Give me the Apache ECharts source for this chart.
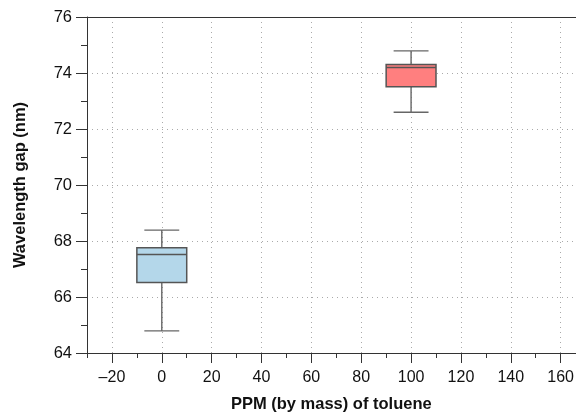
<!DOCTYPE html>
<html>
<head>
<meta charset="utf-8">
<script src="https://cdn.jsdelivr.net/npm/echarts@6/dist/echarts.min.js"></script>
<style>
  html, body { margin: 0; padding: 0; background: #fff; }
  #chart { width: 577px; height: 418px; }
</style>
</head>
<body>
<div id="chart"></div>
<script>
// Toluene concentration groups (ppm by mass) and box statistics of the wavelength gap (nm)
const ppm = [0, 100];
const lowWhisker = [64.79, 72.60];
const q1 = [66.52, 73.51];
const median = [67.52, 74.20];
const q3 = [67.76, 74.30];
const highWhisker = [68.39, 74.79];
const boxColors = ['#b4d7ea', '#ff7f7f'];

// Axis ticks
const xMajorTicks = [-20, 0, 20, 40, 60, 80, 100, 120, 140, 160];
const xMinorTicks = [-30, -10, 10, 30, 50, 70, 90, 110, 130, 150];

const boxHalfWidth = 10;   // in ppm units
const capHalfWidth = 7;    // in ppm units

const data = ppm.map((x, i) => [x, lowWhisker[i], q1[i], median[i], q3[i], highWhisker[i], i]);

const font = 'Liberation Sans, Arial, Helvetica, sans-serif';

const chart = echarts.init(document.getElementById('chart'), null, { renderer: 'canvas' });

chart.setOption({
  animation: false,
  backgroundColor: '#fff',
  grid: { left: 87, top: 17, right: 0, bottom: 65, containLabel: false },
  xAxis: [
    {
      type: 'value',
      min: -30,
      max: 166,
      name: 'PPM (by mass) of toluene',
      nameLocation: 'middle',
      nameGap: 43,
      nameTextStyle: { fontFamily: font, fontWeight: 'bold', fontSize: 16.5, color: '#111' },
      axisLine: { show: true, onZero: false, lineStyle: { color: '#333', width: 1 } },
      axisTick: { show: true, inside: false, length: 10, customValues: xMajorTicks, lineStyle: { color: '#333' } },
      axisLabel: {
        customValues: xMajorTicks,
        margin: 17,
        fontFamily: font,
        fontSize: 16,
        color: '#111',
        formatter: v => (v < 0 ? '\u2013' + Math.abs(v) : String(v))
      },
      splitLine: { show: true, lineStyle: { color: '#aaa', type: [1, 4], width: 1 } }
    },
    {
      // minor ticks along the bottom axis
      type: 'value',
      position: 'bottom',
      min: -30,
      max: 166,
      axisLine: { show: false },
      axisTick: { show: true, length: 5, customValues: xMinorTicks, lineStyle: { color: '#333' } },
      axisLabel: { show: false },
      splitLine: { show: false }
    },
    {
      // top frame line
      type: 'value',
      position: 'top',
      min: -30,
      max: 166,
      axisLine: { show: true, onZero: false, lineStyle: { color: '#333', width: 1 } },
      axisTick: { show: false },
      axisLabel: { show: false },
      splitLine: { show: false }
    }
  ],
  yAxis: {
    type: 'value',
    min: 64,
    max: 76,
    interval: 2,
    name: 'Wavelength gap (nm)',
    nameLocation: 'middle',
    nameGap: 58,
    nameRotate: 90,
    nameTextStyle: { fontFamily: font, fontWeight: 'bold', fontSize: 16.5, color: '#111' },
    axisLine: { show: true, onZero: false, lineStyle: { color: '#333', width: 1 } },
    axisTick: { show: true, inside: false, length: 11, lineStyle: { color: '#333' } },
    minorTick: { show: true, splitNumber: 2, length: 6, lineStyle: { color: '#333' } },
    axisLabel: { margin: 15, fontFamily: font, fontSize: 16.5, color: '#111' },
    splitLine: { show: true, lineStyle: { color: '#aaa', type: [1, 4], width: 1 } }
  },
  series: [{
    type: 'custom',
    xAxisIndex: 0,
    yAxisIndex: 0,
    data: data,
    encode: { x: 0, y: [1, 2, 3, 4, 5] },
    renderItem: function (params, api) {
      const x = api.value(0);
      const idx = api.value(6);
      const pLow = api.coord([x, api.value(1)]);
      const pQ1 = api.coord([x, api.value(2)]);
      const pMed = api.coord([x, api.value(3)]);
      const pQ3 = api.coord([x, api.value(4)]);
      const pHigh = api.coord([x, api.value(5)]);
      const xl = api.coord([x - boxHalfWidth, 0])[0];
      const xr = api.coord([x + boxHalfWidth, 0])[0];
      const cl = api.coord([x - capHalfWidth, 0])[0];
      const cr = api.coord([x + capHalfWidth, 0])[0];
      const whiskerStyle = { stroke: '#666', lineWidth: 1.4, fill: null };
      return {
        type: 'group',
        children: [
          { type: 'line', shape: { x1: pQ3[0], y1: pQ3[1], x2: pHigh[0], y2: pHigh[1] }, style: whiskerStyle },
          { type: 'line', shape: { x1: pQ1[0], y1: pQ1[1], x2: pLow[0], y2: pLow[1] }, style: whiskerStyle },
          { type: 'line', shape: { x1: cl, y1: pHigh[1], x2: cr, y2: pHigh[1] }, style: whiskerStyle },
          { type: 'line', shape: { x1: cl, y1: pLow[1], x2: cr, y2: pLow[1] }, style: whiskerStyle },
          {
            type: 'rect',
            shape: { x: xl, y: pQ3[1], width: xr - xl, height: pQ1[1] - pQ3[1] },
            style: { fill: boxColors[idx], stroke: '#555', lineWidth: 1.5 }
          },
          { type: 'line', shape: { x1: xl, y1: pMed[1], x2: xr, y2: pMed[1] }, style: { stroke: '#555', lineWidth: 1.5 } }
        ]
      };
    }
  }]
});
</script>
</body>
</html>
